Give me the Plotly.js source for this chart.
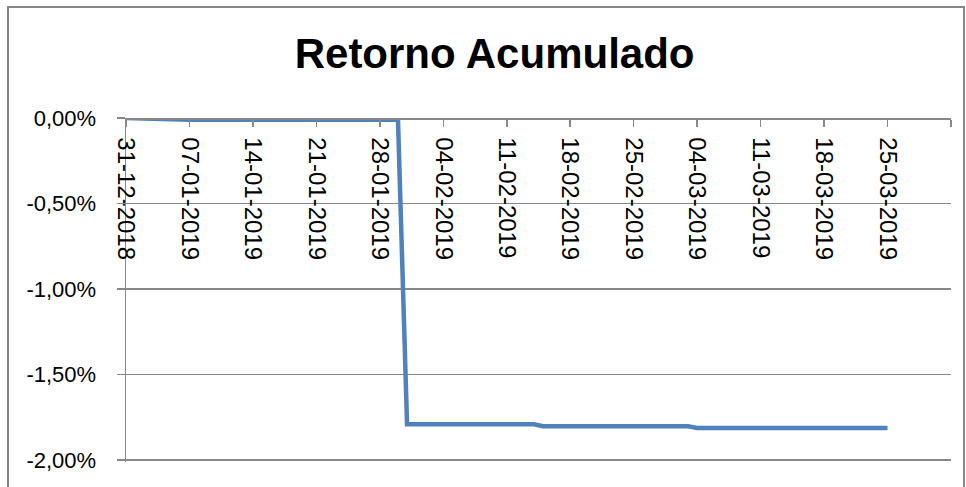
<!DOCTYPE html>
<html>
<head>
<meta charset="utf-8">
<script src="https://cdn.plot.ly/plotly-3.0.1.min.js"></script>
<style>
  html, body { margin: 0; padding: 0; background: #ffffff; }
  #chart { width: 966px; height: 487px; }
</style>
</head>
<body>
<div id="chart"></div>
<script>
// Data
const dates = ['2018-12-31', '2019-01-07', '2019-01-30', '2019-01-31', '2019-02-14', '2019-02-15', '2019-03-03', '2019-03-04', '2019-03-25'];
const retorno = [0, -0.0001, -0.0001, -0.01791, -0.01791, -0.01803, -0.01803, -0.01813, -0.01813];

const xTickVals = ['2018-12-31', '2019-01-07', '2019-01-14', '2019-01-21', '2019-01-28', '2019-02-04', '2019-02-11', '2019-02-18', '2019-02-25', '2019-03-04', '2019-03-11', '2019-03-18', '2019-03-25', '2019-04-01'];
const xTickText = ['31-12-2018', '07-01-2019', '14-01-2019', '21-01-2019', '28-01-2019', '04-02-2019', '11-02-2019', '18-02-2019', '25-02-2019', '04-03-2019', '11-03-2019', '18-03-2019', '25-03-2019', ''];

const yTickVals = [0, -0.005, -0.01, -0.015, -0.02];
const yTickText = ['0,00%', '-0,50%', '-1,00%', '-1,50%', '-2,00%'];

const gray = '#888888';

const trace = {
  x: dates,
  y: retorno,
  type: 'scatter',
  mode: 'lines',
  line: { color: '#4F81BD', width: 4.5 },
  cliponaxis: false,
  hoverinfo: 'skip'
};

const layout = {
  width: 966,
  height: 487,
  margin: { l: 126, r: 15, t: 118, b: 25 },
  paper_bgcolor: '#ffffff',
  plot_bgcolor: '#ffffff',
  showlegend: false,
  font: { family: 'Liberation Sans, Arial, sans-serif', color: '#000000' },
  title: {
    text: '<b>Retorno Acumulado</b>',
    font: { family: 'Liberation Sans, Arial, sans-serif', size: 42, color: '#000000' },
    x: 0.512,
    xanchor: 'center',
    xref: 'container',
    y: 0.891,
    yanchor: 'middle',
    yref: 'container'
  },
  xaxis: {
    type: 'date',
    range: ['2018-12-31', '2019-04-01'],
    anchor: 'free',
    position: 1,
    side: 'bottom',
    showline: true,
    linecolor: gray,
    linewidth: 1.5,
    showgrid: false,
    zeroline: false,
    ticks: 'outside',
    ticklen: 7,
    tickwidth: 1.5,
    tickcolor: gray,
    tickmode: 'array',
    tickvals: xTickVals,
    ticktext: xTickText,
    tickangle: 90,
    ticklabelstandoff: 6,
    tickfont: { family: 'Liberation Sans, Arial, sans-serif', size: 24, color: '#000000' },
    fixedrange: true
  },
  yaxis: {
    range: [-0.020117, 0],
    showline: true,
    linecolor: gray,
    linewidth: 1.5,
    showgrid: true,
    gridcolor: gray,
    gridwidth: 1.5,
    zeroline: false,
    ticks: 'outside',
    ticklen: 8,
    tickwidth: 1.5,
    tickcolor: gray,
    tickmode: 'array',
    tickvals: yTickVals,
    ticktext: yTickText,
    ticklabelstandoff: 16,
    tickfont: { family: 'Liberation Sans, Arial, sans-serif', size: 22, color: '#000000' },
    fixedrange: true
  },
  shapes: [
    {
      type: 'rect', xref: 'paper', yref: 'paper',
      x0: (8 - 126) / 825, x1: (964 - 126) / 825,
      y0: (462 - 492) / 344, y1: (462 - 7) / 344,
      line: { color: gray, width: 2 },
      fillcolor: 'rgba(0,0,0,0)',
      layer: 'below'
    },
    {
      // grid line at the lowest y tick (-2,00%)
      type: 'line', xref: 'paper', yref: 'y',
      x0: 0, x1: 1,
      y0: yTickVals[4], y1: yTickVals[4],
      line: { color: gray, width: 2 },
      layer: 'above'
    }
  ]
};

Plotly.newPlot('chart', [trace], layout, { displayModeBar: false, staticPlot: true });
</script>
</body>
</html>
